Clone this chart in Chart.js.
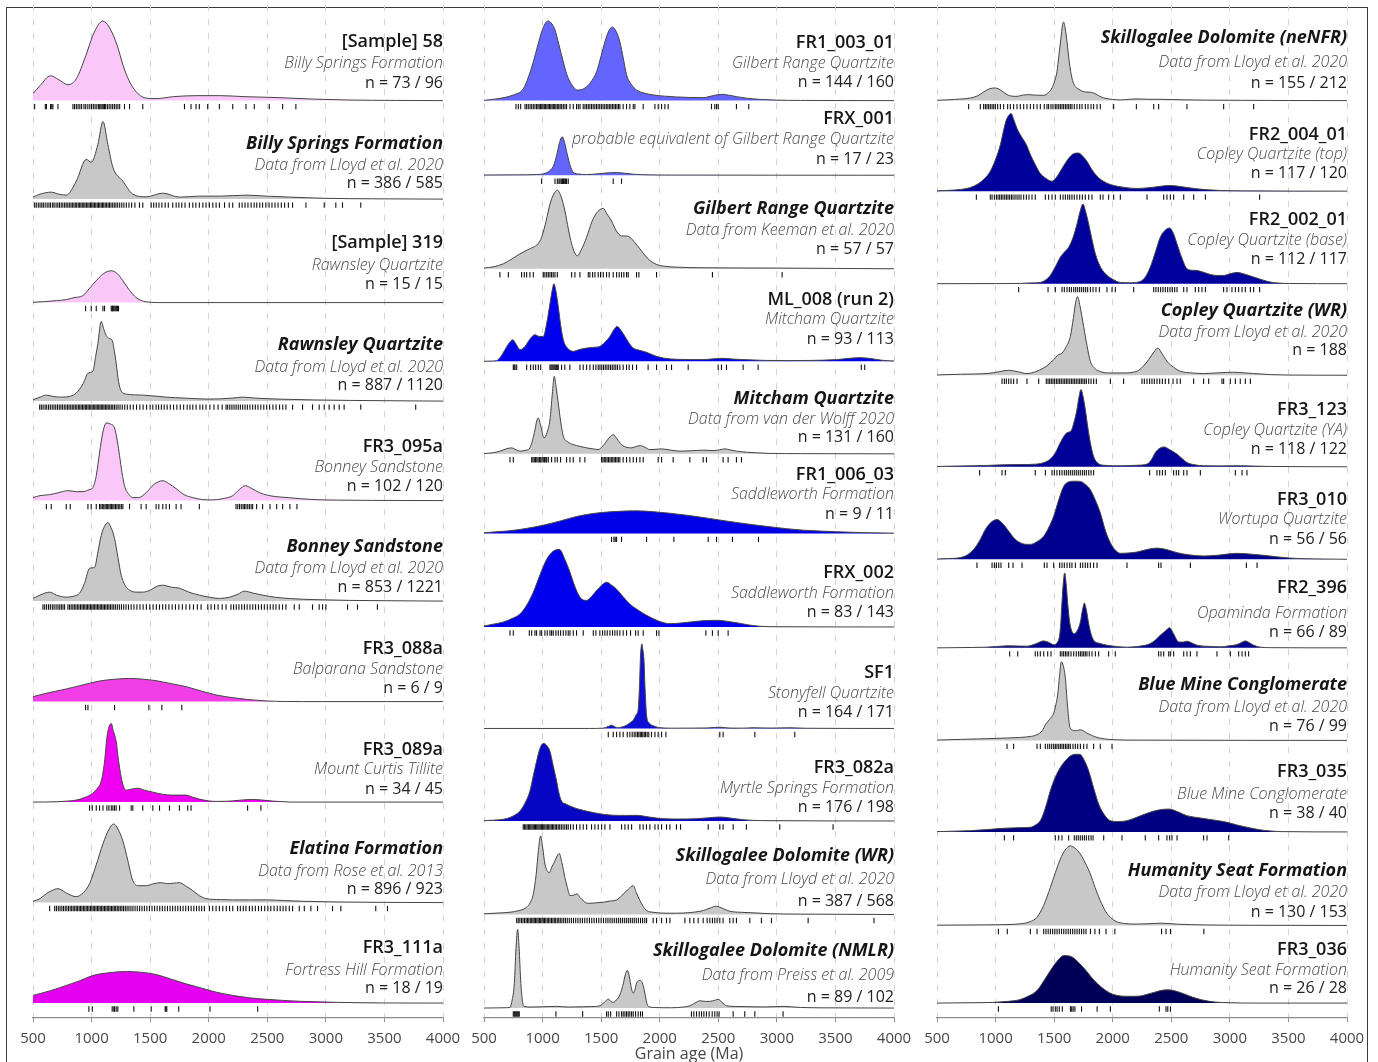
<!DOCTYPE html>
<html>
<head>
<meta charset="utf-8">
<script src="https://cdn.jsdelivr.net/npm/chart.js@4.4.1/dist/chart.umd.min.js"></script>
<style>
  body { margin: 0; background: #fff; }
  #wrap { position: relative; width: 1378px; height: 1062px; overflow: hidden; background: #fff; }
  #frame { position: absolute; left: 6px; top: 7px; width: 1360px; height: 1120px; border: 1.5px solid #3a3a3a; }
  canvas { position: absolute; left: 0; top: 0; }
</style>
</head>
<body>
<div id="wrap">
  <div id="frame"></div>
  <canvas id="colLeft" width="1378" height="1062"></canvas>
  <canvas id="colMid" width="1378" height="1062"></canvas>
  <canvas id="colRight" width="1378" height="1062"></canvas>
</div>
<script>
// ---- tick labels ----
const ageTicks = [500, 1000, 1500, 2000, 2500, 3000, 3500, 4000];

// ---- panel texts ----
const leftTitles = ['[Sample] 58', 'Billy Springs Formation', '[Sample] 319', 'Rawnsley Quartzite', 'FR3_095a',
  'Bonney Sandstone', 'FR3_088a', 'FR3_089a', 'Elatina Formation', 'FR3_111a'];
const leftSubs = ['Billy Springs Formation', 'Data from Lloyd et al. 2020', 'Rawnsley Quartzite', 'Data from Lloyd et al. 2020',
  'Bonney Sandstone', 'Data from Lloyd et al. 2020', 'Balparana Sandstone', 'Mount Curtis Tillite', 'Data from Rose et al. 2013',
  'Fortress Hill Formation'];
const leftCounts = ['n = 73 / 96', 'n = 386 / 585', 'n = 15 / 15', 'n = 887 / 1120', 'n = 102 / 120', 'n = 853 / 1221',
  'n = 6 / 9', 'n = 34 / 45', 'n = 896 / 923', 'n = 18 / 19'];
const leftLit = [false, true, false, true, false, true, false, false, true, false];

const midTitles = ['FR1_003_01', 'FRX_001', 'Gilbert Range Quartzite', 'ML_008 (run 2)', 'Mitcham Quartzite', 'FR1_006_03',
  'FRX_002', 'SF1', 'FR3_082a', 'Skillogalee Dolomite (WR)', 'Skillogalee Dolomite (NMLR)'];
const midSubs = ['Gilbert Range Quartzite', 'probable equivalent of Gilbert Range Quartzite', 'Data from Keeman et al. 2020',
  'Mitcham Quartzite', 'Data from van der Wolff 2020', 'Saddleworth Formation', 'Saddleworth Formation', 'Stonyfell Quartzite',
  'Myrtle Springs Formation', 'Data from Lloyd et al. 2020', 'Data from Preiss et al. 2009'];
const midCounts = ['n = 144 / 160', 'n = 17 / 23', 'n = 57 / 57', 'n = 93 / 113', 'n = 131 / 160', 'n = 9 / 11',
  'n = 83 / 143', 'n = 164 / 171', 'n = 176 / 198', 'n = 387 / 568', 'n = 89 / 102'];
const midLit = [false, false, true, false, true, false, false, false, false, true, true];

const rightTitles = ['Skillogalee Dolomite (neNFR)', 'FR2_004_01', 'FR2_002_01', 'Copley Quartzite (WR)', 'FR3_123', 'FR3_010',
  'FR2_396', 'Blue Mine Conglomerate', 'FR3_035', 'Humanity Seat Formation', 'FR3_036'];
const rightSubs = ['Data from Lloyd et al. 2020', 'Copley Quartzite (top)', 'Copley Quartzite (base)', 'Data from Lloyd et al. 2020',
  'Copley Quartzite (YA)', 'Wortupa Quartzite', 'Opaminda Formation', 'Data from Lloyd et al. 2020', 'Blue Mine Conglomerate',
  'Data from Lloyd et al. 2020', 'Humanity Seat Formation'];
const rightCounts = ['n = 155 / 212', 'n = 117 / 120', 'n = 112 / 117', 'n = 188', 'n = 118 / 122', 'n = 56 / 56',
  'n = 66 / 89', 'n = 76 / 99', 'n = 38 / 40', 'n = 130 / 153', 'n = 26 / 28'];
const rightLit = [true, false, false, true, false, false, false, true, false, true, false];

// ---- density curves [age Ma, density] and rug ages ----
// left column
const curveS58 = [[500,7],[560,15],[650,25],[720,21],[800,16],[870,22],[950,45],[1020,68],[1097,80],[1150,74],[1220,55],[1270,35],[1320,20],[1380,9],[1450,3],[1550,2],[1700,4],[1900,5],[2100,5],[2300,4],[2600,3],[2900,1.5],[3200,0.6],[3600,0.2],[4000,0]];
const rugS58 = [514,605,615,650,660,670,713,841,855,870,885,900,915,935,950,968,985,1000,1015,1030,1045,1060,1070,1080,1090,1100,1110,1120,1135,1150,1165,1180,1195,1210,1225,1240,1281,1324,1437,1793,1849,1892,1920,1991,2091,2205,2318,2389,2517,2631,2744];
const curveBilly = [[500,2],[560,5],[656,7],[720,5],[784,4],[869,18],[955,40],[997,37],[1054,55],[1097,78],[1139,55],[1182,32],[1267,18],[1352,5],[1466,2.3],[1608,6],[1750,2],[1920,3],[2100,3],[2318,4],[2489,3],[2700,2],[3000,0.8],[3400,0.3],[4000,0]];
const rugBilly = [514,528,545,560,575,588,604,621,636,650,668,680,697,712,726,741,755,770,783,797,810,824,836,849,861,873,886,898,909,921,933,944,956,968,979,991,1002,1013,1025,1036,1048,1059,1070,1082,1093,1104,1116,1128,1141,1153,1166,1180,1194,1208,1223,1240,1258,1276,1297,1319,1342,1370,1409,1437,1509,1530,1552,1575,1600,1628,1655,1693,1722,1745,1770,1798,1835,1864,1890,1920,1950,1977,2006,2035,2063,2091,2135,2175,2205,2261,2285,2310,2335,2362,2388,2410,2436,2460,2488,2515,2540,2566,2592,2620,2648,2680,2716,2830,2986,3085,3142,3298];
const curveS319 = [[500,0.3],[600,1],[700,2],[784,3],[850,5],[926,7],[980,14],[1040,22],[1100,29],[1168,32],[1220,29],[1267,22],[1320,13],[1381,5],[1466,0.8],[1600,0],[4000,0]];
const rugS319 = [949,997,1040,1097,1111,1168,1176,1180,1184,1192,1200,1208,1215,1222,1230];
const curveRawnsley = [[500,1.3],[560,4],[614,6],[680,4.5],[756,4],[820,5],[869,8],[930,18],[969,28],[1011,30],[1035,45],[1054,58],[1082,80],[1105,72],[1125,66],[1150,63],[1176,61],[1195,50],[1210,38],[1230,20],[1253,10],[1300,7],[1437,6],[1550,5],[1636,4],[1800,3],[2000,2],[2200,3],[2290,4],[2400,3],[2600,2],[2900,1.2],[3200,0.7],[3600,0.3],[4000,0]];
const rugRawnsley = [557,571,586,603,617,633,648,664,679,694,709,724,738,752,767,781,795,808,822,835,848,861,874,887,899,911,923,935,947,958,970,981,993,1004,1015,1027,1038,1049,1061,1072,1083,1095,1106,1118,1130,1142,1155,1168,1181,1195,1210,1226,1243,1262,1283,1305,1330,1356,1384,1412,1440,1470,1500,1523,1551,1572,1596,1620,1645,1672,1700,1728,1757,1786,1816,1840,1864,1892,1925,1949,1977,2010,2045,2080,2115,2148,2162,2180,2198,2216,2234,2252,2270,2290,2310,2330,2352,2375,2398,2420,2445,2470,2495,2520,2548,2575,2605,2632,2659,2716,2801,2886,2943,2986,3028,3071,3114,3156,3298,3767];
const curveFR3_095a = [[500,3],[560,5],[642,6],[720,8],[798,10],[870,9],[926,9],[980,11],[1011,13],[1040,25],[1068,48],[1095,68],[1125,78],[1160,77],[1196,73],[1220,60],[1239,45],[1260,28],[1281,15],[1320,6],[1352,3],[1400,3],[1466,8],[1530,16],[1608,20],[1660,17],[1722,12],[1790,6],[1864,3],[1950,1],[2034,0.7],[2120,2],[2205,5],[2260,11],[2313,15],[2370,12],[2432,8],[2500,5.5],[2574,4],[2680,3],[2773,2],[2900,1],[3100,0.5],[3400,0.2],[4000,0]];
const rugFR3_095a = [614,656,784,818,969,997,1040,1068,1080,1092,1104,1115,1126,1137,1148,1159,1170,1181,1192,1204,1216,1228,1241,1254,1267,1324,1423,1466,1551,1574,1608,1636,1665,1722,1764,1920,2233,2248,2263,2278,2293,2305,2318,2333,2347,2362,2375,2409,2460,2523,2580,2631,2693,2753];
const curveBonney = [[500,2.7],[560,6],[642,9],[700,6],[784,4],[850,5],[898,8],[940,18],[983,33],[1026,34],[1055,50],[1082,66],[1110,75],[1139,79],[1165,74],[1196,63],[1225,44],[1253,26],[1290,15],[1324,11],[1380,9],[1437,9],[1500,11],[1560,15],[1608,16],[1680,14],[1750,13],[1830,9],[1920,6],[2000,4],[2091,2.7],[2180,4],[2250,7],[2304,10],[2380,8],[2460,6],[2560,4],[2700,2.5],[2900,1.5],[3200,0.7],[3600,0.3],[4000,0]];
const rugBonney = [585,600,616,633,648,665,680,697,713,728,742,756,770,798,812,826,840,853,866,879,892,905,918,930,942,954,966,978,990,1002,1014,1026,1038,1050,1062,1074,1086,1098,1110,1122,1135,1148,1161,1175,1189,1204,1220,1237,1255,1274,1294,1315,1338,1362,1387,1413,1440,1468,1497,1525,1553,1580,1607,1633,1660,1688,1716,1745,1775,1806,1838,1870,1903,1935,1992,2020,2050,2080,2115,2148,2190,2212,2235,2258,2282,2305,2328,2352,2376,2400,2425,2450,2475,2500,2525,2550,2574,2602,2630,2659,2730,2773,2886,2943,2972,3000,3185,3270,3440];
const curveFR3_088a = [[500,5],[600,8],[784,12.7],[900,16],[1068,20.7],[1200,22.5],[1324,23.3],[1440,22.5],[1551,21],[1680,18],[1807,15],[1940,10.5],[2063,6.7],[2200,4],[2318,2.3],[2489,0.7],[2650,0.1],[2800,0],[4000,0]];
const rugFR3_088a = [949,969,1196,1489,1600,1770];
const curveFR3_089a = [[500,0],[700,0.3],[800,1],[869,2],[950,5],[1011,9],[1050,14],[1082,21],[1110,40],[1131,65],[1150,76],[1168,79],[1185,72],[1210,61],[1230,42],[1253,25],[1275,15],[1295,12],[1340,13],[1395,14],[1450,12],[1523,10],[1600,8],[1693,7],[1760,7],[1807,7],[1860,5],[1920,3],[2000,1.2],[2063,0.7],[2150,0.8],[2250,1.7],[2375,2.7],[2460,2],[2546,1],[2650,0.3],[2700,0],[4000,0]];
const rugFR3_089a = [983,1006,1040,1068,1097,1131,1148,1168,1182,1196,1210,1239,1338,1352,1437,1523,1580,1665,1750,1821,1849,2332,2446];
const curveElatina = [[500,1.3],[560,4],[614,9],[660,12],[713,14],[780,10],[830,7],[869,6],[930,10],[983,19],[1040,38],[1097,59],[1150,74],[1188,79],[1225,74],[1267,62],[1310,42],[1352,22],[1400,17],[1466,17],[1530,19],[1594,20],[1650,19],[1700,19.5],[1750,20],[1800,17],[1864,12],[1920,7],[1977,4],[2100,3],[2205,2.7],[2350,2.7],[2489,2.7],[2650,2],[2800,1.3],[3100,0.6],[3500,0.2],[4000,0]];
const rugElatina = [642,685,700,716,731,746,760,775,789,803,817,830,843,856,869,881,894,906,918,930,942,954,966,978,990,1002,1014,1026,1038,1050,1062,1074,1086,1098,1110,1122,1134,1146,1158,1170,1182,1194,1206,1219,1232,1245,1259,1273,1288,1303,1319,1336,1353,1371,1390,1410,1430,1451,1472,1494,1516,1538,1560,1582,1604,1626,1648,1670,1692,1714,1736,1758,1781,1804,1827,1850,1873,1896,1918,1940,1963,2006,2034,2063,2091,2120,2150,2178,2205,2247,2270,2295,2318,2347,2372,2398,2425,2450,2478,2505,2530,2558,2585,2610,2635,2659,2688,2716,2773,2816,2872,2929,3057,3128,3426,3526];
const curveFR3_111a = [[500,7.7],[650,12.5],[784,17.7],[900,22.5],[1011,27.7],[1150,30.5],[1296,31.7],[1420,31],[1551,28.7],[1680,24],[1807,19.3],[1940,15],[2063,11],[2200,7.8],[2347,5.3],[2490,3.8],[2631,2.7],[2780,1.8],[2915,1.3],[3100,0.7],[3300,0.3],[3500,0.1],[4000,0]];
const rugFR3_111a = [977,1006,1176,1190,1196,1210,1224,1361,1509,1628,1635,1642,1744,2011,2418];

// middle column
const curveFR1_003_01 = [[500,0.3],[620,2],[750,5.7],[836,12],[880,24],[921,39],[960,56],[992,69],[1020,77],[1049,80],[1080,77],[1106,71],[1140,56],[1177,39],[1205,27],[1234,19],[1265,13.5],[1296,10.7],[1330,11],[1376,14],[1420,20],[1461,29],[1500,45],[1532,59],[1565,70],[1595,74],[1630,69],[1660,59],[1690,42],[1717,26],[1760,16],[1802,10.7],[1870,7.5],[1944,5.7],[2040,4.5],[2143,3.7],[2250,3.2],[2371,3],[2450,4.8],[2527,6.3],[2590,5.5],[2655,4],[2750,2.3],[2850,1.3],[3000,0.5],[3200,0.2],[4000,0]];
const rugFR1_003_01 = [773,793,813,850,864,878,893,907,921,935,949,960,971,982,993,1004,1015,1026,1037,1048,1059,1070,1081,1092,1103,1114,1126,1138,1150,1163,1177,1191,1205,1234,1262,1290,1305,1320,1347,1362,1376,1390,1404,1418,1432,1446,1460,1474,1488,1502,1516,1530,1544,1557,1570,1583,1596,1609,1622,1635,1648,1660,1688,1717,1745,1774,1788,1859,1959,1987,2016,2044,2072,2442,2470,2485,2499,2655,2760];
const curveFRX_001 = [[500,0.2],[800,0.4],[949,0.7],[1010,1.5],[1063,4.7],[1095,10],[1120,20],[1145,33],[1168,38.7],[1190,32],[1211,21],[1235,10],[1262,3],[1310,1.2],[1376,0.7],[1480,1.5],[1560,2.4],[1632,2.7],[1700,2],[1780,1],[1900,0.4],[2100,0.2],[4000,0]];
const rugFRX_001 = [992,1106,1126,1140,1149,1160,1171,1178,1185,1195,1205,1219,1603,1674];
const curveGilbert = [[500,0.7],[580,2],[665,5],[740,10],[807,15],[870,19],[921,21.7],[960,25],[992,31.7],[1030,48],[1063,65],[1095,75],[1126,79],[1160,72],[1191,58],[1220,40],[1248,25],[1275,16],[1296,13],[1330,19],[1376,31.7],[1420,47],[1455,55],[1490,59.5],[1518,60.7],[1550,55],[1589,48],[1630,38],[1674,33],[1710,33],[1745,31.7],[1790,26],[1831,20],[1870,14],[1916,8.3],[1970,4.5],[2030,2.7],[2150,1.6],[2371,1],[2700,0.8],[3000,0.7],[3300,0.5],[3700,0.2],[4000,0]];
const rugGilbert = [636,708,821,844,864,892,921,1006,1020,1035,1049,1063,1077,1091,1106,1126,1248,1276,1319,1390,1404,1427,1447,1475,1495,1518,1546,1569,1603,1632,1654,1674,1694,1717,1731,1802,1822,1973,2450,3045];
const curveML_008 = [[500,0],[560,0.2],[608,0.7],[645,5],[679,11.7],[712,18],[745,21.7],[775,17],[807,11.7],[850,15],[890,22],[935,26.7],[970,25],[1006,25],[1035,38],[1063,58],[1080,70],[1097,78],[1115,70],[1134,55],[1155,36],[1177,21.7],[1215,13],[1262,10],[1320,12],[1376,13.3],[1430,14],[1489,15],[1530,19],[1575,25],[1610,32],[1637,35],[1670,31],[1703,25],[1740,18],[1774,13.3],[1830,11],[1888,9],[1960,5.5],[2030,3.3],[2150,2],[2371,1.7],[2460,2.5],[2541,3],[2620,2.3],[2712,1.7],[2900,0.9],[3082,0.7],[3300,0.9],[3508,1.7],[3620,3],[3707,3.7],[3800,2.8],[3900,1],[4000,0.3]];
const rugML_008 = [750,758,765,779,864,898,921,941,964,984,1063,1072,1081,1090,1099,1108,1117,1126,1134,1162,1190,1233,1319,1347,1376,1404,1433,1455,1475,1490,1505,1520,1535,1550,1565,1580,1595,1610,1625,1640,1660,1688,1717,1739,1768,1802,1901,1973,2058,2101,2243,2499,2527,2570,2712,2840,3721,3750];
const curveMitcham = [[500,0.3],[570,1],[636,2.7],[690,5],[736,6],[775,4],[807,2.7],[850,3.5],[892,6],[915,14],[935,24],[950,33],[963,36],[985,28],[1012,16],[1040,22],[1063,34],[1083,60],[1100,78],[1117,66],[1134,51],[1155,32],[1177,17.7],[1215,12],[1262,9.3],[1320,7.5],[1376,6],[1430,5],[1475,4.3],[1515,8],[1546,12.7],[1575,17],[1603,19.3],[1635,15],[1674,9.3],[1720,6.5],[1760,6],[1800,7.5],[1836,8.3],[1875,6.5],[1916,4.3],[1960,4.5],[2015,5],[2090,3.8],[2172,2.7],[2280,3.2],[2371,3.7],[2456,3.3],[2510,4],[2556,5],[2600,4],[2655,2.7],[2740,1.7],[2826,1],[2950,0.4],[3200,0.2],[4000,0]];
const rugMitcham = [722,750,907,918,929,940,951,962,973,984,995,1006,1017,1028,1035,1049,1077,1106,1126,1154,1205,1234,1262,1319,1361,1504,1515,1527,1539,1551,1563,1575,1587,1599,1611,1623,1635,1647,1660,1688,1717,1745,1774,1802,1831,1859,1987,2016,2115,2257,2371,2399,2541,2584,2655,2698];
const curveFR1_006_03 = [[500,0.7],[600,1.6],[722,2.7],[860,5],[1006,8.3],[1150,12.5],[1290,17],[1430,20],[1575,21.7],[1700,22.5],[1802,22.7],[1950,21.8],[2087,20.3],[2230,18.3],[2371,16],[2510,13.5],[2655,11],[2800,8.7],[2940,6.7],[3080,4.8],[3224,3.3],[3370,2.4],[3508,1.7],[3650,1.1],[3793,0.7],[4000,0.3]];
const rugFR1_006_03 = [1589,1609,1620,1632,1674,1888,2121,2414,2485,2621,2843];
const curveFRX_002 = [[500,1],[580,2.8],[665,5],[740,8.5],[807,13],[865,22],[921,35],[980,53],[1035,68],[1090,76],[1143,78],[1190,68],[1234,55],[1275,41],[1319,30],[1350,27],[1376,26.7],[1420,31],[1461,36.7],[1505,42],[1546,45],[1590,42],[1632,38],[1690,30],[1745,23],[1815,17],[1888,11.7],[1990,6],[2087,3.3],[2200,4.2],[2314,5.7],[2400,6.5],[2485,6.7],[2570,5.8],[2655,4.3],[2750,2.2],[2854,0.7],[3000,0.2],[4000,0]];
const rugFRX_002 = [722,750,887,907,935,949,978,992,1020,1040,1063,1077,1091,1114,1134,1154,1177,1199,1219,1234,1262,1290,1347,1433,1455,1489,1512,1532,1552,1575,1597,1617,1637,1660,1688,1717,1751,1794,1816,1859,1973,1993,2394,2450,2499,2584];
const curveSF1 = [[500,0],[1400,0],[1518,0.3],[1560,2],[1589,3.3],[1620,1.5],[1646,0.7],[1690,2],[1717,3.3],[1750,6],[1774,8.3],[1800,14],[1817,20],[1828,45],[1836,73],[1842,82],[1848,85],[1855,80],[1865,70],[1875,40],[1888,13],[1910,5.5],[1944,2.7],[1990,1],[2100,0.3],[2400,0.5],[2513,1.3],[2600,0.4],[2700,0.3],[2797,0.7],[2950,0.4],[3110,0.7],[3250,0.2],[4000,0]];
const rugSF1 = [1561,1603,1632,1660,1688,1723,1745,1765,1782,1797,1811,1822,1834,1845,1856,1868,1879,1893,1907,1930,1959,1987,2016,2053,2513,2541,2812,3153];
const curveFR3_082a = [[500,0.3],[580,0.8],[665,1.7],[740,4.5],[807,10],[850,18],[892,30],[920,45],[949,60],[975,72],[1006,78],[1035,76],[1063,70],[1090,56],[1120,40],[1140,28],[1162,20],[1200,17],[1234,15],[1290,12.5],[1347,10.7],[1430,8.5],[1518,6.7],[1600,5.8],[1700,5.6],[1802,5.7],[1910,4],[2030,2.3],[2170,2],[2314,2.3],[2420,3.3],[2513,4],[2600,3],[2712,1.3],[2800,0.6],[2950,0.3],[4000,0]];
const rugFR3_082a = [835,846,857,868,879,890,900,910,920,930,940,950,960,970,980,990,1000,1010,1020,1030,1041,1052,1063,1074,1085,1096,1108,1120,1133,1146,1160,1175,1190,1205,1219,1239,1262,1290,1319,1347,1376,1418,1447,1475,1504,1532,1575,1674,1703,1731,1760,1831,1859,1887,1916,1959,1987,2016,2058,2087,2143,2178,2414,2513,2541,2627,2740,3025,3480];
const curveSkilloWR = [[500,0.7],[620,1.5],[722,2.3],[800,4],[864,7.3],[895,12],[921,20.7],[945,40],[965,65],[983,79],[1000,68],[1020,50.7],[1040,44],[1057,42],[1080,48],[1106,54],[1125,59],[1143,61.3],[1165,52],[1191,37],[1212,27],[1234,19],[1265,19.5],[1296,20.7],[1320,17],[1347,14],[1375,11.5],[1404,11.3],[1460,11.8],[1518,12.3],[1575,13.5],[1632,14.7],[1660,17],[1689,20.7],[1730,25],[1774,29],[1800,22],[1831,14],[1860,8],[1888,4],[1950,2.2],[2087,1.3],[2200,1.5],[2300,2.5],[2371,4],[2430,6.5],[2485,8.3],[2540,6],[2598,3.3],[2700,2.2],[2797,1.7],[2950,0.8],[3200,0.4],[3600,0.2],[4000,0]];
const rugSkilloWR = [779,792,806,820,833,846,859,871,883,895,907,918,929,940,951,962,973,984,995,1006,1017,1028,1040,1052,1064,1076,1088,1100,1112,1125,1138,1151,1165,1180,1195,1211,1228,1246,1264,1283,1302,1321,1340,1360,1380,1400,1420,1440,1460,1480,1500,1520,1540,1558,1576,1594,1612,1630,1647,1664,1681,1698,1715,1732,1749,1766,1783,1800,1818,1836,1854,1872,1888,1944,1973,2016,2058,2087,2215,2257,2291,2328,2371,2405,2428,2450,2470,2490,2513,2541,2598,2627,2655,2769,2868,2954,3267,3829];
const curveSkilloNMLR = [[500,0],[680,0.3],[722,0.7],[740,8],[759,25],[773,60],[787,79],[800,60],[813,28],[827,8],[841,1.7],[900,1],[1000,1.3],[1120,1.7],[1220,1],[1347,1.3],[1420,1.5],[1489,2.3],[1530,6],[1561,9],[1585,6.5],[1603,5.7],[1630,8],[1660,13.3],[1690,25],[1705,33],[1723,38],[1740,32],[1758,20],[1774,15],[1790,19],[1802,25],[1820,27.5],[1836,27.7],[1855,24],[1873,15],[1890,5],[1902,1.7],[1960,0.5],[2100,0.3],[2200,1],[2257,2.3],[2300,5],[2343,7.3],[2390,6.7],[2428,6.7],[2470,7.8],[2499,8.7],[2530,6],[2570,2.3],[2650,1.6],[2797,1.3],[2900,1.1],[3053,1.7],[3200,0.6],[3400,0.2],[4000,0]];
const rugSkilloNMLR = [750,759,767,776,784,793,801,1114,1342,1546,1561,1581,1632,1652,1674,1688,1703,1717,1731,1745,1760,1774,1794,1816,1836,1853,2271,2291,2314,2337,2357,2377,2399,2422,2448,2470,2490,2507,2627,2726,2812,3053];

// right column
const curveSkilloNeNFR = [[500,0.3],[650,1.2],[785,2.7],[850,5],[898,8.7],[950,12],[998,12.7],[1050,10],[1098,6],[1140,4.5],[1183,4.3],[1230,5.5],[1283,6],[1340,5.5],[1411,5.3],[1450,8],[1482,12.7],[1505,20],[1524,29],[1540,45],[1558,62.7],[1570,75],[1581,79],[1595,72],[1610,59],[1630,38],[1652,22.7],[1675,15],[1695,12.7],[1730,10],[1766,8.7],[1800,8.5],[1837,7.7],[1880,5],[1923,2.7],[2000,1.2],[2065,0.7],[2140,1.3],[2207,1.7],[2300,1.4],[2420,1.3],[2600,0.8],[2800,0.5],[3100,0.3],[3500,0.1],[4000,0]];
const rugSkilloNeNFR = [770,870,898,913,927,941,955,970,984,998,1018,1041,1069,1103,1126,1154,1183,1211,1240,1268,1297,1325,1354,1382,1416,1439,1453,1473,1490,1510,1524,1539,1553,1567,1581,1596,1610,1624,1638,1652,1672,1695,1718,1738,1766,1789,1815,1837,1866,1894,2008,2202,2350,2392,2634,2947,3203];
const curveFR2_004_01 = [[500,0.3],[600,0.8],[699,1.7],[780,3.5],[841,6.7],[900,12],[955,20],[1000,32],[1041,46.7],[1070,62],[1092,71.7],[1112,76],[1132,78],[1158,71],[1183,63],[1220,55],[1263,46.7],[1300,36],[1339,26.7],[1380,18],[1425,13.3],[1482,10],[1520,14],[1553,20],[1600,29],[1638,35],[1675,38],[1709,38.3],[1745,35],[1780,30],[1820,22],[1866,15],[1920,10],[1980,6.7],[2100,3.8],[2207,2.7],[2350,4],[2440,5.4],[2492,5.7],[2600,4.3],[2719,2.3],[2820,1.3],[2919,0.7],[3100,0.3],[4000,0]];
const rugFR2_004_01 = [836,955,970,990,1007,1021,1035,1049,1063,1078,1092,1106,1120,1135,1149,1166,1183,1200,1217,1240,1263,1285,1311,1339,1425,1453,1482,1510,1553,1576,1596,1616,1633,1652,1672,1695,1718,1741,1766,1795,1823,1894,1917,1965,2008,2065,2293,2435,2463,2492,2520,2606,2691,2791,3254];
const curveFR2_002_01 = [[500,0],[1000,0.1],[1211,0.3],[1300,0.8],[1382,1.3],[1430,4],[1467,8.3],[1510,17],[1553,26.7],[1590,32],[1624,36.7],[1660,46],[1695,60],[1720,72],[1746,80],[1770,72],[1795,60],[1822,45],[1852,30],[1890,18],[1937,10],[2000,4.5],[2065,1.3],[2150,1],[2236,2.3],[2280,7],[2321,16.7],[2365,32],[2406,46.7],[2450,54],[2486,56],[2520,50],[2549,40],[2590,26],[2634,15],[2680,13.5],[2719,13.3],[2775,11.5],[2833,9.3],[2890,8.3],[2947,8.3],[3000,10],[3061,11.3],[3130,9.5],[3203,6.7],[3280,3.8],[3345,1.7],[3420,0.6],[3500,0.2],[4000,0]];
const rugFR2_002_01 = [1197,1448,1510,1567,1587,1610,1630,1647,1667,1684,1701,1718,1735,1752,1769,1786,1809,1832,1857,1886,1951,1994,2022,2179,2350,2369,2389,2409,2429,2449,2469,2489,2509,2529,2549,2606,2634,2705,2734,2762,2791,2947,2975,3018,3047,3075,3104,3132,3175,3203,3254];
const curveCopleyWR = [[500,0.3],[700,1],[927,1.7],[1030,3.5],[1112,5],[1190,3.5],[1268,1.7],[1340,3.5],[1411,7.3],[1455,11],[1496,15.7],[1530,20],[1567,22.3],[1600,28],[1638,39],[1665,58],[1685,74],[1701,79],[1720,70],[1752,49],[1780,30],[1809,14],[1850,6.5],[1900,3.5],[1951,2.3],[2080,2.3],[2207,4],[2260,9],[2307,15.7],[2350,23],[2384,27.3],[2420,22],[2463,14],[2520,8],[2577,4],[2680,2.3],[2776,1.7],[2900,2.4],[3032,3],[3120,2.4],[3203,1.7],[3350,0.6],[3500,0.2],[4000,0]];
const rugCopleyWR = [1055,1075,1092,1112,1132,1154,1183,1268,1368,1433,1448,1462,1476,1490,1504,1519,1533,1547,1561,1576,1590,1604,1618,1633,1647,1661,1675,1689,1704,1718,1732,1746,1761,1775,1795,1815,1837,1860,1980,2093,2250,2270,2293,2315,2335,2355,2378,2401,2424,2449,2478,2515,2549,2577,2691,2776,2819,2933,2947,3004,3047,3089,3132,3175];
const curveFR3_123 = [[500,0.3],[650,0.7],[785,1],[930,1.4],[1069,2],[1200,2.2],[1354,2.7],[1420,4.5],[1467,7.7],[1510,14],[1553,24.3],[1585,31],[1610,34.3],[1644,36],[1670,45],[1695,57.7],[1712,70],[1729,77.7],[1748,70],[1766,57.7],[1787,40],[1809,24.3],[1835,11],[1866,4.3],[1930,1.5],[2065,1],[2200,1.5],[2293,2.7],[2330,7],[2364,14.3],[2400,18.5],[2435,20],[2490,17],[2549,12.7],[2595,8],[2634,4.3],[2700,2],[2776,1],[2900,0.9],[3089,1],[3200,0.7],[3350,0.3],[4000,0]];
const rugFR3_123 = [864,1055,1083,1339,1425,1482,1502,1524,1547,1567,1587,1604,1621,1638,1655,1672,1689,1706,1723,1741,1758,1775,1795,1815,1837,2315,2378,2401,2424,2449,2520,2543,2563,2606,2634,2748,3047,3104,3146];
const curveFR3_010 = [[500,0.3],[600,0.8],[699,1.7],[760,4.5],[813,10],[865,19],[913,30],[960,37],[1012,40],[1060,36],[1112,28.3],[1160,21],[1211,16.7],[1250,15.2],[1297,15],[1350,17.5],[1411,23.3],[1450,31],[1496,43.3],[1540,60],[1581,73.3],[1610,77],[1638,78.3],[1680,78.5],[1724,78.3],[1770,75],[1809,70],[1850,60],[1894,46.7],[1940,28],[1980,16.7],[2020,9.5],[2065,6],[2130,6.3],[2207,7.3],[2290,9.8],[2378,11.3],[2460,9.8],[2549,6.7],[2650,4.5],[2776,3.3],[2900,4.2],[3061,6],[3180,5.2],[3289,4],[3400,2.5],[3510,1.3],[3650,0.6],[3800,0.3],[4000,0]];
const rugFR3_010 = [841,970,990,1007,1027,1046,1112,1149,1226,1416,1439,1496,1547,1567,1587,1610,1633,1652,1681,1724,1744,1766,1786,1809,1837,1866,2122,2392,2412,2663,3141,3232];
const curveFR2_396 = [[500,0],[800,0.4],[927,0.7],[1098,2],[1200,1.8],[1268,1.7],[1340,4],[1411,7],[1455,5.5],[1496,3.3],[1530,6],[1547,12.7],[1557,25],[1567,46],[1578,65],[1590,75.3],[1602,65],[1615,46],[1630,28],[1644,19.3],[1660,15],[1672,14.3],[1700,18],[1724,26],[1742,38],[1758,45],[1775,38],[1795,24.3],[1815,14],[1837,7.7],[1890,4.5],[1951,2.7],[2040,1.3],[2122,0.7],[2220,1.5],[2321,4.3],[2365,8],[2406,12.7],[2450,17],[2486,20.3],[2520,14],[2563,6],[2600,5.8],[2634,6.7],[2675,5],[2719,2.7],[2820,1.5],[2919,1],[2990,2],[3061,3.3],[3100,5.5],[3132,7],[3170,5],[3203,2.7],[3260,0.7],[3350,0.2],[4000,0]];
const rugFR2_396 = [1120,1189,1339,1359,1382,1411,1445,1473,1553,1567,1581,1596,1610,1624,1644,1667,1689,1709,1724,1738,1752,1766,1780,1800,1823,1852,1880,1965,2022,2392,2412,2435,2478,2492,2520,2606,2634,2663,2719,2890,3004,3075,3104,3132,3160];
const curveBlueMine = [[500,0.3],[700,1],[927,1.7],[1100,2.4],[1211,3],[1300,4],[1354,5.7],[1400,10],[1425,15.7],[1460,21],[1496,27.3],[1515,36],[1530,45.7],[1546,65],[1561,79],[1578,75],[1596,62.3],[1612,38],[1633,14],[1655,10.5],[1681,9.7],[1700,10],[1724,10.7],[1750,9.5],[1780,7.3],[1820,5],[1866,3],[1930,1.5],[2008,0.7],[2200,0.3],[4000,0]];
const rugBlueMine = [1098,1154,1354,1382,1425,1445,1462,1479,1496,1510,1524,1539,1553,1567,1581,1596,1610,1624,1638,1661,1681,1701,1724,1752,1780,1837,1894,1994];
const curveFR3_035 = [[500,0.3],[650,0.8],[785,1.3],[930,2.4],[1069,3.7],[1200,4.3],[1297,4.7],[1340,7],[1382,11.3],[1425,24],[1467,41.3],[1510,55],[1553,64.7],[1596,71.5],[1638,76.3],[1680,78],[1718,78],[1757,72],[1795,61.3],[1840,43],[1880,28],[1930,17],[1980,11.3],[2050,10.5],[2122,11.3],[2200,14.5],[2293,18.7],[2380,21.8],[2478,23],[2560,20],[2634,16.3],[2720,14.5],[2805,13],[2890,11.5],[2976,9.7],[3060,7],[3146,4.7],[3250,2.3],[3345,1],[3450,0.3],[4000,0]];
const rugFR3_035 = [1075,1154,1510,1539,1567,1624,1672,1689,1706,1723,1741,1758,1775,1795,1815,1832,1923,2079,2278,2392,2463,2486,2506,2549,2776,2805,2990];
const curveHumanity = [[500,0.3],[800,0.5],[1000,0.7],[1211,1.7],[1300,4],[1354,8.3],[1410,20],[1467,38],[1510,53],[1553,66.7],[1595,76],[1638,80],[1680,77.5],[1724,71.7],[1765,63],[1809,51.7],[1850,38],[1894,25],[1940,14],[1980,8.3],[2030,4],[2100,2],[2200,1.4],[2300,1.7],[2420,2.3],[2550,1.3],[2800,0.5],[3200,0.2],[4000,0]];
const rugHumanity = [1024,1100,1297,1354,1411,1430,1449,1468,1487,1506,1525,1544,1563,1582,1601,1620,1639,1658,1677,1696,1715,1734,1753,1772,1810,1848,1886,1943,2018,2417,2455,2493,2778];
const curveFR3_036 = [[500,0],[800,0.3],[975,0.7],[1100,1.7],[1202,3.3],[1280,7],[1354,12.7],[1410,22],[1468,32.7],[1525,42],[1582,47.7],[1620,47.5],[1658,46],[1715,40],[1772,32.7],[1840,23],[1904,16],[1970,10.5],[2037,7.7],[2130,6.8],[2227,7],[2300,9],[2360,11],[2420,12.8],[2474,13.3],[2540,12],[2607,9.3],[2680,6],[2759,3.3],[2873,1],[3000,0.3],[3200,0],[4000,0]];
const rugFR3_036 = [1024,1475,1490,1510,1525,1544,1570,1639,1650,1662,1677,1734,1867,1980,2398,2455,2470,2493];

// ---- layout and styles (pixels / colours, kept apart from the data) ----
const PAGE_W = 1378;
const PLOT_BOTTOM = 1018;         // axis line y
const PINK = '#f9c8f9', GRAY = '#c8c8c8';

const columns = [
  {
    id: 'colLeft', left: 33, right: 443, axisTitle: false,
    baselines: [96, 195, 299, 398, 498, 599, 700, 801, 902, 1003],
    textY: [[42,63,83],[144,165,183],[243,265,284],[345,367,385],[447,467,486],[547,568,587],[649,669,688],[750,769,789],[849,871,889],[948,970,988]],
    fills: [PINK, GRAY, PINK, GRAY, PINK, GRAY, '#f23ee6', '#f000f0', GRAY, '#e600f2'],
    titles: leftTitles, subs: leftSubs, counts: leftCounts, lit: leftLit,
    curves: [curveS58, curveBilly, curveS319, curveRawnsley, curveFR3_095a, curveBonney, curveFR3_088a, curveFR3_089a, curveElatina, curveFR3_111a],
    rugs: [rugS58, rugBilly, rugS319, rugRawnsley, rugFR3_095a, rugBonney, rugFR3_088a, rugFR3_089a, rugElatina, rugFR3_111a]
  },
  {
    id: 'colMid', left: 484, right: 894, axisTitle: true,
    baselines: [96, 171, 265, 358, 451, 531, 625, 727, 820, 914, 1008],
    textY: [[43,63,82],[119,139,159],[209,230,249],[300,319,339],[399,419,437],[475,494,514],[573,593,612],[673,693,712],[768,788,807],[856,879,901],[951,975,997]],
    fills: ['#6464ff', '#6464ff', GRAY, '#0000ee', GRAY, '#0000e8', '#0000ee', '#0e0ed4', '#0606c4', GRAY, GRAY],
    titles: midTitles, subs: midSubs, counts: midCounts, lit: midLit,
    curves: [curveFR1_003_01, curveFRX_001, curveGilbert, curveML_008, curveMitcham, curveFR1_006_03, curveFRX_002, curveSF1, curveFR3_082a, curveSkilloWR, curveSkilloNMLR],
    rugs: [rugFR1_003_01, rugFRX_001, rugGilbert, rugML_008, rugMitcham, rugFR1_006_03, rugFRX_002, rugSF1, rugFR3_082a, rugSkilloWR, rugSkilloNMLR]
  },
  {
    id: 'colRight', left: 937, right: 1347, axisTitle: false,
    baselines: [96, 187, 280, 372, 464, 557, 646, 739, 831, 925, 1003],
    textY: [[38,62,83],[135,154,173],[220,240,259],[311,332,350],[410,430,449],[500,519,539],[588,613,632],[685,707,726],[772,794,813],[871,892,912],[950,970,988]],
    fills: [GRAY, '#00009a', '#00009c', GRAY, '#000098', '#00008e', '#00008c', GRAY, '#000082', GRAY, '#000058'],
    titles: rightTitles, subs: rightSubs, counts: rightCounts, lit: rightLit,
    curves: [curveSkilloNeNFR, curveFR2_004_01, curveFR2_002_01, curveCopleyWR, curveFR3_123, curveFR3_010, curveFR2_396, curveBlueMine, curveFR3_035, curveHumanity, curveFR3_036],
    rugs: [rugSkilloNeNFR, rugFR2_004_01, rugFR2_002_01, rugCopleyWR, rugFR3_123, rugFR3_010, rugFR2_396, rugBlueMine, rugFR3_035, rugHumanity, rugFR3_036]
  }
];

// draws the three text lines of every panel, right aligned to the plot edge
function panelTextPlugin(col) {
  return {
    id: 'panelText',
    afterDatasetsDraw(chart) {
      const ctx = chart.ctx;
      const x = chart.chartArea.right;
      ctx.save();
      ctx.textAlign = 'right';
      ctx.textBaseline = 'middle';
      col.titles.forEach((t, i) => {
        const y = col.textY[i];
        ctx.font = col.lit[i] ? 'italic 700 18px "Open Sans"' : '600 18px "Open Sans"';
        ctx.fillStyle = '#161616';
        ctx.fillText(t, x, y[0]);
        ctx.font = 'italic 300 16px "Open Sans"';
        ctx.fillStyle = '#4a4a4a';
        ctx.fillText(col.subs[i], x, y[1]);
        ctx.font = '400 16px "Open Sans"';
        ctx.fillStyle = '#222';
        ctx.fillText(col.counts[i], x, y[2]);
      });
      ctx.restore();
    }
  };
}

columns.forEach(col => {
  const datasets = [];
  col.curves.forEach((curve, i) => {
    const base = PLOT_BOTTOM - col.baselines[i];
    datasets.push({
      type: 'line',
      data: curve.map(p => ({ x: p[0], y: base + p[1] })),
      borderColor: '#444',
      borderWidth: 1,
      backgroundColor: col.fills[i],
      fill: { value: base },
      pointRadius: 0,
      cubicInterpolationMode: 'monotone'
    });
    // rug of grain ages under the baseline
    datasets.push({
      type: 'scatter',
      data: col.rugs[i].map(a => ({ x: a, y: base - 6 })),
      pointStyle: 'line',
      pointRotation: 90,
      pointRadius: 2.7,
      pointBorderWidth: 1.1,
      pointBorderColor: '#111',
      pointBackgroundColor: '#111',
      showLine: false
    });
  });

  new Chart(document.getElementById(col.id).getContext('2d'), {
    type: 'line',
    data: { datasets: datasets },
    options: {
      responsive: false,
      animation: false,
      events: [],
      layout: { padding: { left: col.left, right: PAGE_W - col.right, top: 0, bottom: 0 } },
      plugins: { legend: { display: false }, tooltip: { enabled: false } },
      scales: {
        x: {
          type: 'linear',
          min: ageTicks[0],
          max: ageTicks[ageTicks.length - 1],
          afterFit: s => { s.height = 44; },
          afterBuildTicks: s => { s.ticks = ageTicks.map(v => ({ value: v })); },
          ticks: {
            autoSkip: false, maxRotation: 0, padding: 8, color: '#474747',
            font: { family: 'Open Sans', size: 15 },
            callback: v => String(v)
          },
          grid: { color: '#d2d2d2', lineWidth: 1, tickLength: 4, tickColor: '#8c8c8c', tickWidth: 1 },
          border: { display: true, color: '#8c8c8c', width: 1.3, dash: [6, 8] },
          title: {
            display: col.axisTitle, text: 'Grain age (Ma)', color: '#474747',
            font: { family: 'Open Sans', size: 16 }, padding: { top: 0, bottom: -2 }
          }
        },
        y: { display: false, min: 0, max: PLOT_BOTTOM }
      }
    },
    plugins: [panelTextPlugin(col)]
  });
});
</script>
</body>
</html>
